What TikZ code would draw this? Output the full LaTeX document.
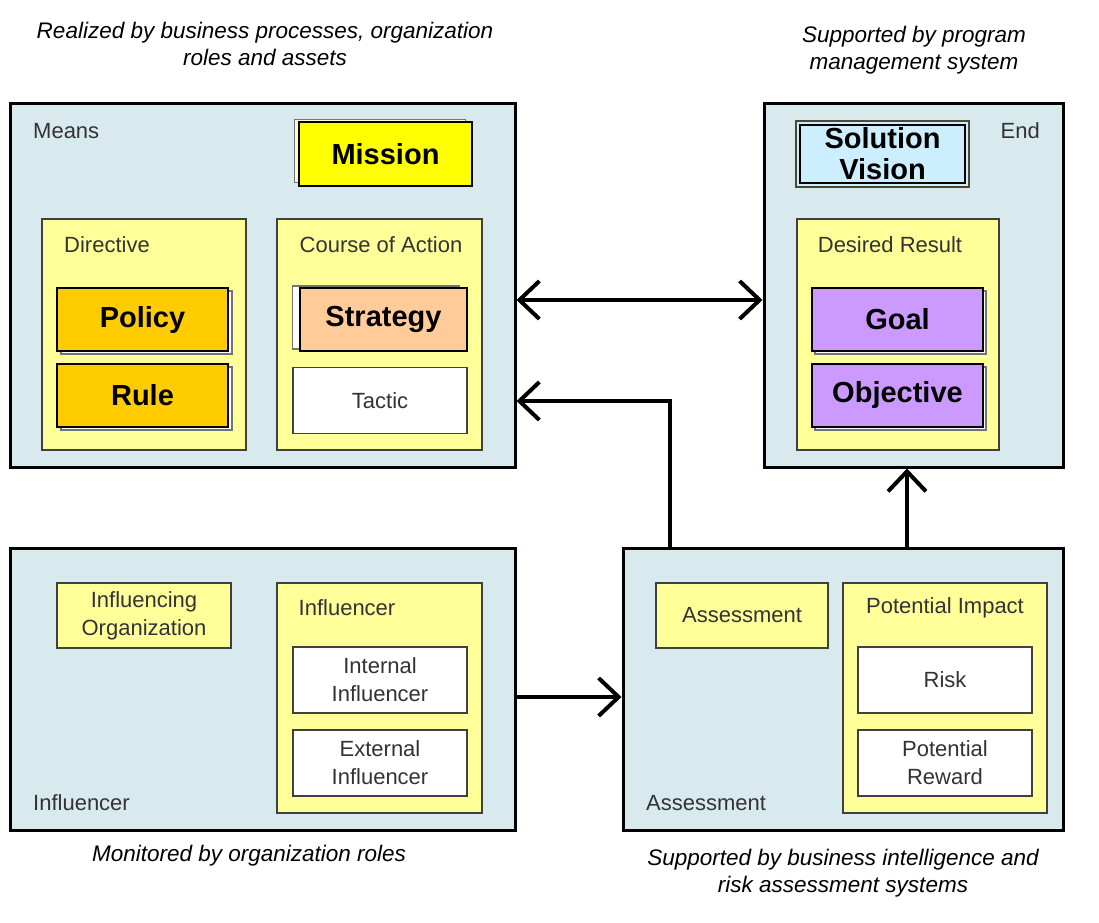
\documentclass[tikz,border=0pt]{standalone}
\usepackage{fontspec}
\setmainfont{Liberation Sans}
\usetikzlibrary{arrows.meta}
\definecolor{outerblue}{HTML}{D8EAEE}
\definecolor{paleyellow}{HTML}{FFFF99}
\definecolor{missionc}{HTML}{FFFF00}
\definecolor{policyc}{HTML}{FFCC00}
\definecolor{stratc}{HTML}{FFCC99}
\definecolor{goalc}{HTML}{CC99FF}
\definecolor{visionc}{HTML}{CCEEFF}
\tikzset{
  outerbox/.style={draw=black, line width=3pt, fill=outerblue, inner sep=0pt},
  innerbox/.style={draw=black!75, line width=1.5pt, fill=paleyellow, inner sep=0pt},
  bigbox/.style={draw=black, line width=2pt, inner sep=0pt, font=\fontsize{29}{32}\selectfont\bfseries, align=center,
     minimum width=171pt, minimum height=63pt},
  plainbox/.style={draw=black!75, line width=1.5pt, fill=white, inner sep=0pt, font=\fontsize{22}{28}\selectfont, text=black!80, align=center,
     minimum width=174pt, minimum height=66pt},
  shadowbox/.style={draw=black!55, line width=1.2pt, fill=white!90!gray, minimum width=171pt, minimum height=63pt, inner sep=0pt},
  lbl/.style={font=\fontsize{22}{28}\selectfont, text=black!80, inner sep=0pt, align=center},
  caption/.style={font=\fontsize{22.5}{27}\selectfont\itshape, inner sep=0pt, align=center},
  conn/.style={line width=4pt, {Straight Barb[length=20pt,width=38pt,line width=4pt]}-{Straight Barb[length=20pt,width=38pt,line width=4pt]}},
  connto/.style={line width=4pt, -{Straight Barb[length=20pt,width=38pt,line width=4pt]}}
}
\begin{document}
\begin{tikzpicture}[x=1pt,y=-1pt]
\useasboundingbox (0,0) rectangle (1099,922);
% outer boxes
\node[outerbox, minimum width=505pt, minimum height=364pt] (means) at (262.5,285) {};
\node[outerbox, minimum width=299pt, minimum height=364pt] (end) at (913.5,285) {};
\node[outerbox, minimum width=505pt, minimum height=282pt] (infl) at (262.5,689) {};
\node[outerbox, minimum width=440pt, minimum height=282pt] (assess) at (843,689) {};
\node[lbl, anchor=west] (meansl) at (33,131) {Means};
\node[lbl, anchor=east] (endl) at (1040,131) {End};
\node[lbl, anchor=west] (infll) at (33,803) {Influencer};
\node[lbl, anchor=west] (assessl) at (646,803) {Assessment};
% inner yellow boxes
\node[innerbox, minimum width=204pt, minimum height=231pt] (dir) at (144,334.5) {};
\node[lbl] (dirl) at (107,245) {Directive};
\node[innerbox, minimum width=205pt, minimum height=231pt] (coa) at (379.5,334.5) {};
\node[lbl] (coal) at (381,245) {Course of Action};
\node[innerbox, minimum width=202pt, minimum height=231pt] (des) at (898,334.5) {};
\node[lbl] (desl) at (890,245) {Desired Result};
\node[innerbox, minimum width=174pt, minimum height=65pt, font=\fontsize{22}{28}\selectfont, text=black!80, align=center] (inforg) at (144,615.5) {Influencing\\Organization};
\node[innerbox, minimum width=205pt, minimum height=230pt] (inf) at (379.5,698) {};
\node[lbl] (infl2) at (347,608) {Influencer};
\node[innerbox, minimum width=172pt, minimum height=65pt, font=\fontsize{22}{28}\selectfont, text=black!80] (asm) at (742,615.5) {Assessment};
\node[innerbox, minimum width=204pt, minimum height=230pt] (pi) at (945,698) {};
\node[lbl] (pil) at (945,608) {Potential Impact};
% shadows
\node[shadowbox, fill=paleyellow!60!white] (mshadow) at (380,151) {};
\node[shadowbox, fill=white] (pshadow) at (146.5,322.5) {};
\node[shadowbox, fill=white] (rshadow) at (146.5,398.5) {};
\node[shadowbox, fill=white, minimum width=167pt] (sshadow) at (376,317.5) {};
\node[shadowbox, fill=white] (gshadow) at (900.5,322.5) {};
\node[shadowbox, fill=white] (oshadow) at (900.5,398.5) {};
\node[shadowbox, draw=black!60!olive, line width=2pt, fill=visionc, minimum width=173pt, minimum height=66pt] (vshadow) at (882.5,154) {};
% big boxes
\node[bigbox, fill=missionc, minimum width=173pt, minimum height=64pt] (mission) at (385.5,154) {Mission};
\node[bigbox, fill=visionc, minimum width=165pt, minimum height=58pt, font=\fontsize{29}{31}\selectfont\bfseries] (vision) at (882.5,154) {Solution\\Vision};
\node[bigbox, fill=policyc] (policy) at (142.5,319.5) {Policy};
\node[bigbox, fill=policyc] (rule) at (142.5,395) {Rule};
\node[bigbox, fill=stratc, minimum width=167pt] (strategy) at (383.5,319.5) {Strategy};
\node[plainbox] (tactic) at (380,400.5) {Tactic};
\node[bigbox, fill=goalc] (goal) at (897.5,319.5) {Goal};
\node[bigbox, fill=goalc] (objective) at (897.5,395) {Objective};
\node[plainbox] (intinf) at (380,680) {Internal\\Influencer};
\node[plainbox] (extinf) at (380,763) {External\\Influencer};
\node[plainbox] (risk) at (945,680) {Risk};
\node[plainbox] (reward) at (945,763) {Potential\\Reward};
% captions
\node[caption] (cap1) at (265,44) {Realized by business processes, organization\\roles and assets};
\node[caption] (cap2) at (914,50) {Supported by program\\management system};
\node[caption] (cap3) at (249,856) {Monitored by organization roles};
\node[caption] (cap4) at (843,873) {Supported by business intelligence and\\risk assessment systems};
% connectors
\draw[conn] (means.east |- 0,300) -- (end.west |- 0,300);
\draw[connto] (assess.north -| 670,0) |- (means.east |- 0,401);
\draw[connto] (infl.east |- 0,697) -- (assess.west |- 0,697);
\draw[connto] (assess.north -| 907,0) -- (end.south -| 907,0);
\end{tikzpicture}
\end{document}
